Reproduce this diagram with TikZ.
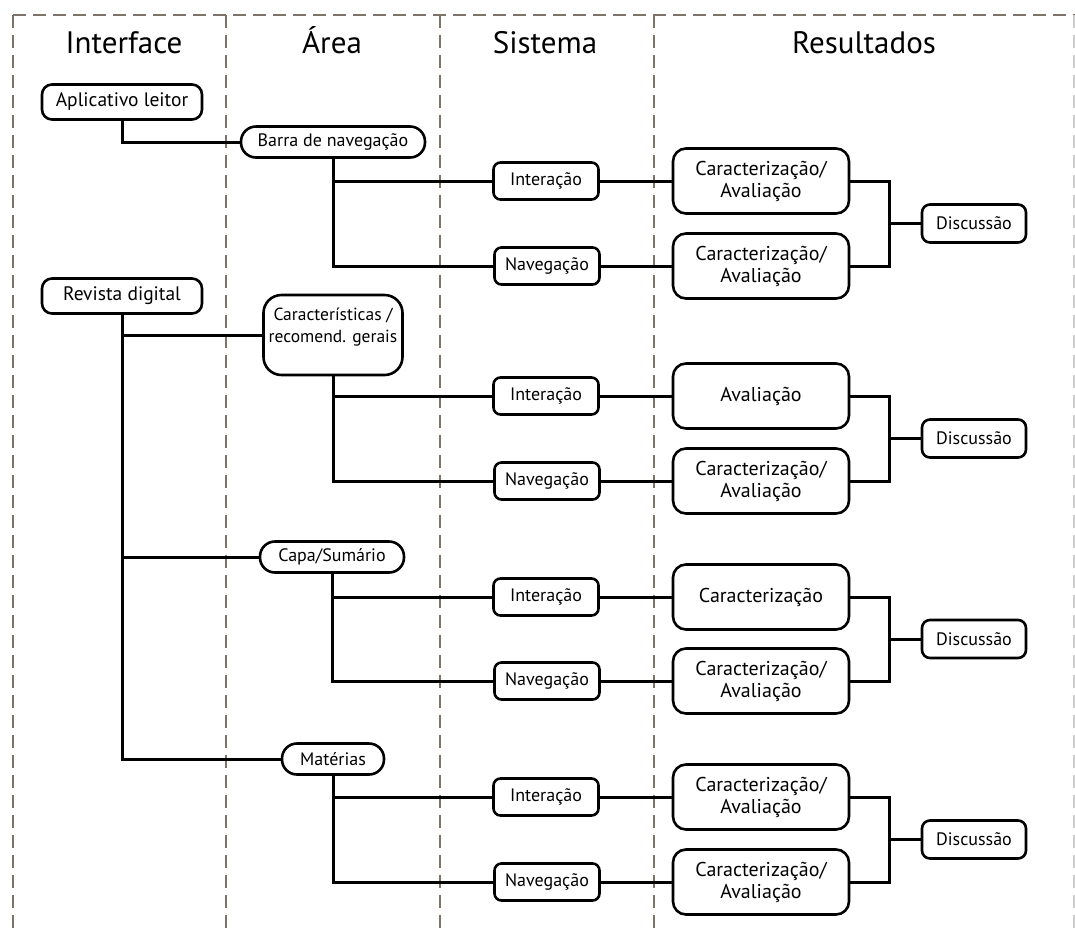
\documentclass[tikz,border=0pt]{standalone}
\usepackage{fontspec}
\setmainfont{PT Sans}
\usetikzlibrary{calc}
\definecolor{guidegray}{RGB}{125,115,105}
\definecolor{edgegray}{RGB}{205,205,205}
\newcommand\caraval{Caracterização/\\Avaliação}
\tikzset{
  guide/.style={draw=guidegray, line width=2pt, dash pattern=on 13pt off 7pt},
  head/.style={anchor=base, font=\fontsize{31}{33}\selectfont},
  basebox/.style={draw, line width=2.6pt, inner sep=0pt, align=center, fill=white},
  bigbox/.style={basebox, rounded corners=10pt, minimum width=160pt, minimum height=35pt,
    font=\fontsize{19.5}{22}\selectfont},
  pillbox/.style={basebox, rounded corners=15pt, minimum height=31pt,
    font=\fontsize{18}{20}\selectfont},
  smallbox/.style={basebox, rounded corners=7pt, minimum width=105pt, minimum height=37pt,
    font=\fontsize{18}{20}\selectfont},
  resbox/.style={basebox, rounded corners=13pt, minimum width=176pt, minimum height=65pt,
    font=\fontsize{20}{22}\selectfont},
  discbox/.style={basebox, rounded corners=8pt, minimum width=104pt, minimum height=38pt,
    font=\fontsize{18}{20}\selectfont},
  link/.style={draw, line width=3pt},
}
\begin{document}
\begin{tikzpicture}[x=1pt, y=-1pt]
\useasboundingbox (0,0) rectangle (1075,930);

% column guides
\draw[guide] (13,15) -- (1075,15);
\draw[guide] (13,15) -- (13,930);
\draw[guide] (226,15) -- (226,930);
\draw[guide] (440,15) -- (440,930);
\draw[guide] (654,15) -- (654,930);
\draw[guide, draw=edgegray] (1074,15) -- (1074,930);

% column headings
\node[head] (hInt) at (124,53) {Interface};
\node[head] (hArea) at (332,53) {Área};
\node[head] (hSis) at (545,53) {Sistema};
\node[head] (hRes) at (864,53) {Resultados};

% interface level
\node[bigbox] (apl) at (122,102) {Aplicativo leitor};
\node[bigbox] (rev) at (122,296) {Revista digital};

% area level
\node[pillbox, minimum width=184pt] (barra) at (333,142) {Barra de navegação};
\node[basebox, rounded corners=18pt, minimum width=139pt, minimum height=80pt] (carac) at (333,335) {};
\node[font=\fontsize{17.5}{22}\selectfont, align=center, anchor=north, inner sep=0pt] (caractxt) at ($(carac.north)+(0,14)$) {Características /\\recomend. gerais};
\node[pillbox, minimum width=144pt] (capa) at (332,557) {Capa/Sumário};
\node[pillbox, minimum width=102pt] (mat) at (333,759) {Matérias};

\draw[link] (apl.south) |- (barra.west);
\draw[link] (rev.south) |- (carac.west);
\draw[link] (rev.south) |- (capa.west);
\draw[link] (rev.south) |- (mat.west);

% system and results levels
\foreach \gi/\src/\yi/\yn/\restop in {1/barra/181/266/\caraval, 2/carac/396/481/Avaliação, 3/capa/597/681/Caracterização, 4/mat/797/882/\caraval}{
  \node[smallbox] (int\gi) at (546,\yi) {Interação};
  \node[smallbox] (nav\gi) at (547,\yn) {Navegação};
  \node[resbox] (ra\gi) at (761,\yi) {\restop};
  \node[resbox] (rb\gi) at (761,\yn) {\caraval};
  \coordinate (j\gi) at (889,{(\yi+\yn)/2});
  \node[discbox] (d\gi) at (974,{(\yi+\yn)/2}) {Discussão};
  \draw[link] (\src.south) |- (int\gi.west);
  \draw[link] (\src.south) |- (nav\gi.west);
  \draw[link] (int\gi) -- (ra\gi);
  \draw[link] (nav\gi) -- (rb\gi);
  \draw[link] (ra\gi.east) -| (j\gi) |- (rb\gi.east);
  \draw[link] (j\gi) -- (d\gi);
}
\end{tikzpicture}
\end{document}
